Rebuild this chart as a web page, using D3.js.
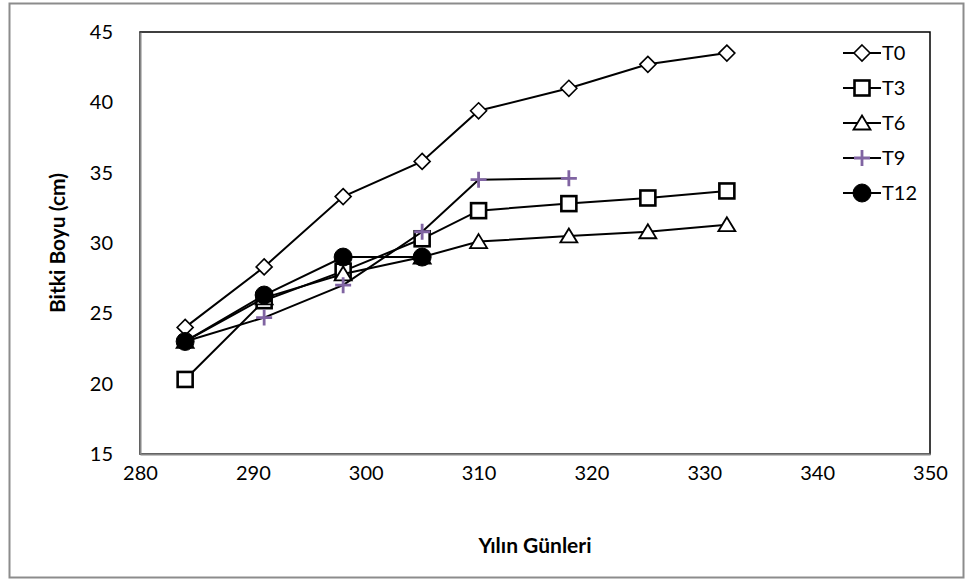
<!DOCTYPE html>
<html>
<head>
<meta charset="utf-8">
<script src="https://cdn.jsdelivr.net/npm/d3@7"></script>
<style>
  html, body { margin: 0; padding: 0; background: #fff; }
  svg { display: block; font-family: Lato, "Open Sans", sans-serif; }
</style>
</head>
<body>
<svg id="chart" width="965" height="583"></svg>
<script>
// Plant height (cm) by day of year for each treatment
const days = [284, 291, 298, 305, 310, 318, 325, 332];
const seriesNames = ["T0", "T3", "T6", "T9", "T12"];
const t0  = [24.0, 28.3, 33.3, 35.8, 39.4, 41.0, 42.7, 43.5];
const t3  = [20.3, 25.9, 28.0, 30.3, 32.3, 32.8, 33.2, 33.7];
const t6  = [23.0, 26.1, 27.8, 29.0, 30.1, 30.5, 30.8, 31.3];
const t9  = [23.0, 24.7, 27.0, 30.8, 34.5, 34.6];
const t12 = [23.0, 26.3, 29.0, 29.0];
const xTicks = [280, 290, 300, 310, 320, 330, 340, 350];
const yTicks = [15, 20, 25, 30, 35, 40, 45];
const xTitle = "Yılın Günleri";
const yTitle = "Bitki Boyu (cm)";

const seriesValues = [t0, t3, t6, t9, t12];
const markerKinds = ["diamond", "square", "triangle", "plus", "circle"];

const svg = d3.select("#chart");
const plot = { left: 140, right: 930, top: 32, bottom: 454 };
const labelSize = 20;
const titleSize = 21;

const x = d3.scaleLinear().domain([280, 350]).range([plot.left, plot.right]);
const y = d3.scaleLinear().domain([15, 45]).range([plot.bottom, plot.top]);

// outer chart border
svg.append("rect")
  .attr("x", 9.5).attr("y", 3.5).attr("width", 954).attr("height", 574)
  .attr("fill", "#fff").attr("stroke", "#8c8c8c").attr("stroke-width", 2);

// plot area frame
svg.append("rect")
  .attr("x", plot.left).attr("y", plot.top)
  .attr("width", plot.right - plot.left).attr("height", plot.bottom - plot.top)
  .attr("fill", "none").attr("stroke", "#000").attr("stroke-width", 1.5);

// axes (labels only, grey axis lines)
const xAxis = svg.append("g")
  .attr("transform", `translate(0,${plot.bottom})`)
  .call(d3.axisBottom(x).tickValues(xTicks).tickSize(0).tickPadding(12).tickFormat(d3.format("d")));
const yAxis = svg.append("g")
  .attr("transform", `translate(${plot.left},0)`)
  .call(d3.axisLeft(y).tickValues(yTicks).tickSize(0).tickPadding(27).tickFormat(d3.format("d")));

[xAxis, yAxis].forEach(g => {
  g.select(".domain").attr("stroke", "#868686").attr("stroke-width", 2);
  g.selectAll("text").attr("font-size", labelSize).attr("fill", "#000")
    .attr("font-family", "Lato, 'Open Sans', sans-serif");
});

// axis titles
svg.append("text")
  .attr("x", (plot.left + plot.right) / 2).attr("y", 553)
  .attr("text-anchor", "middle").attr("font-size", titleSize).attr("font-weight", "bold")
  .text(xTitle);
svg.append("text")
  .attr("transform", `translate(65,${(plot.top + plot.bottom) / 2}) rotate(-90)`)
  .attr("text-anchor", "middle").attr("font-size", titleSize).attr("font-weight", "bold")
  .text(yTitle);

// marker drawing
function drawMarker(g, kind) {
  switch (kind) {
    case "diamond":
      g.append("path").attr("d", "M0,-8L8,0L0,8L-8,0Z")
        .attr("fill", "#fff").attr("stroke", "#000").attr("stroke-width", 1.6);
      break;
    case "square":
      g.append("rect").attr("x", -7.5).attr("y", -7.5).attr("width", 15).attr("height", 15)
        .attr("fill", "#fff").attr("stroke", "#000").attr("stroke-width", 2.6);
      break;
    case "triangle":
      g.append("path").attr("d", "M0,-7.5L8.5,6.5L-8.5,6.5Z")
        .attr("fill", "#fff").attr("stroke", "#000").attr("stroke-width", 1.8);
      break;
    case "plus":
      g.append("path").attr("d", "M-8,0H8M0,-8V8")
        .attr("fill", "none").attr("stroke", "#8064a2").attr("stroke-width", 2.8);
      break;
    case "circle":
      g.append("circle").attr("r", 9).attr("fill", "#000").attr("stroke", "#000").attr("stroke-width", 1);
      break;
  }
}

const line = d3.line().x(d => x(d[0])).y(d => y(d[1]));

seriesValues.forEach((vals, i) => {
  const pts = vals.map((v, j) => [days[j], v]);
  const g = svg.append("g").attr("class", "series-" + seriesNames[i]);
  g.append("path").attr("d", line(pts))
    .attr("fill", "none").attr("stroke", "#000").attr("stroke-width", 2);
  pts.forEach(p => {
    const m = g.append("g").attr("transform", `translate(${x(p[0])},${y(p[1])})`);
    drawMarker(m, markerKinds[i]);
  });
});

// legend
const legend = svg.append("g");
seriesNames.forEach((name, i) => {
  const cy = 53 + i * 35;
  const row = legend.append("g");
  row.append("line").attr("x1", 843).attr("x2", 881).attr("y1", cy).attr("y2", cy)
    .attr("stroke", "#000").attr("stroke-width", 2);
  const m = row.append("g").attr("transform", `translate(862,${cy})`);
  drawMarker(m, markerKinds[i]);
  row.append("text").attr("x", 882).attr("y", cy).attr("dy", "0.35em")
    .attr("font-size", labelSize).text(name);
});
</script>
</body>
</html>
